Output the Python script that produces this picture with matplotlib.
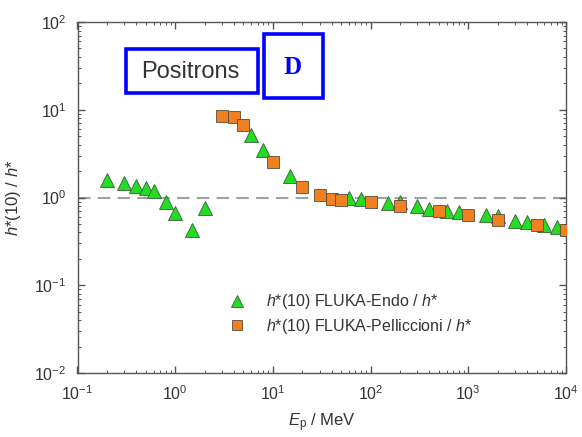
import matplotlib
matplotlib.use("Agg")
import matplotlib.pyplot as plt
from matplotlib.patches import Rectangle

plt.rcParams['font.family'] = ['Liberation Sans', 'DejaVu Sans']
plt.rcParams['mathtext.fontset'] = 'custom'
plt.rcParams['mathtext.rm'] = 'Liberation Sans'
plt.rcParams['mathtext.it'] = 'Liberation Sans:italic'
plt.rcParams['mathtext.bf'] = 'Liberation Sans:bold'

# ---- data ----
endo_energy = [0.2, 0.3, 0.4, 0.5, 0.6, 0.8, 1.0, 1.5, 2.0, 6, 8, 15,
               60, 80, 150, 200, 300, 400, 600, 800, 1500, 2000, 3000,
               4000, 6000, 8000]
endo_ratio = [1.58, 1.47, 1.35, 1.27, 1.19, 0.90, 0.66, 0.43, 0.75, 5.15,
              3.48, 1.76, 0.98, 0.95, 0.86, 0.90, 0.79, 0.73, 0.71, 0.68,
              0.63, 0.61, 0.54, 0.53, 0.48, 0.46]

pell_energy = [3, 4, 5, 10, 20, 30, 40, 50, 100, 200, 500, 1000, 2000,
               5000, 10000]
pell_ratio = [8.55, 8.3, 6.7, 2.56, 1.33, 1.07, 0.96, 0.94, 0.89, 0.81,
              0.71, 0.64, 0.56, 0.48, 0.43]

x_ticks = [0.1, 1, 10, 100, 1000, 10000]
x_tick_labels = ['$10^{-1}$', '$10^{0}$', '$10^{1}$', '$10^{2}$', '$10^{3}$', '$10^{4}$']
y_ticks = [0.01, 0.1, 1, 10, 100]
y_tick_labels = ['$10^{-2}$', '$10^{-1}$', '$10^{0}$', '$10^{1}$', '$10^{2}$']

label_endo = '$h$*(10) FLUKA-Endo / $h$*'
label_pell = '$h$*(10) FLUKA-Pelliccioni / $h$*'

W, H = 582, 437
fig = plt.figure(figsize=(W / 100, H / 100), dpi=100)
ax = fig.add_axes([77.5 / W, 1 - 373 / H, (566 - 77.5) / W, (373 - 22) / H])

ax.set_xscale('log')
ax.set_yscale('log')
ax.set_xlim(0.1, 10000)
ax.set_ylim(0.01, 100)

ax.axhline(1.0, color='#a0a0a0', lw=1.5, ls=(0, (6, 3.5)), zorder=1)

ax.plot(endo_energy, endo_ratio, ls='none', marker='^', ms=10,
        mfc='#22dd22', mec='#3a5a3a', mew=0.6, label=label_endo, zorder=3)
ax.plot(pell_energy, pell_ratio, ls='none', marker='s', ms=8.5,
        mfc='#f08020', mec='#5a4a3a', mew=0.6, label=label_pell, zorder=4)

ax.set_xticks(x_ticks)
ax.set_xticklabels(x_tick_labels)
ax.set_yticks(y_ticks)
ax.set_yticklabels(y_tick_labels)

for side in ax.spines.values():
    side.set_color('#555555')
    side.set_linewidth(1.0)

ax.tick_params(which='both', direction='in', top=True, right=True,
               colors='#555555', labelcolor='#333333', labelsize=11.5)
ax.tick_params(which='major', length=5, width=1.0, pad=8)
ax.tick_params(which='minor', length=2.5, width=0.7)

ax.set_xlabel('$E_{\\mathrm{p}}$ / MeV', fontsize=12, color='#333333', labelpad=6)
ax.set_ylabel('$h$*(10) / $h$*', fontsize=12, color='#333333', labelpad=8)

leg = ax.legend(loc='upper left', bbox_to_anchor=((223 - 77.5) / 488.5, (373 - 286) / 351),
                frameon=False, fontsize=11.5, handlelength=1.0, handletextpad=1.3,
                labelspacing=0.35, borderaxespad=0, markerscale=0.8)
for t in leg.get_texts():
    t.set_color('#333333')

# annotation boxes
fig.patches.append(Rectangle((126 / W, 1 - 93 / H), 132 / W, 44 / H,
                             transform=fig.transFigure, fill=False,
                             edgecolor='#0000ff', lw=2.6, zorder=10))
fig.patches.append(Rectangle((264 / W, 1 - 98 / H), 59 / W, 64 / H,
                             transform=fig.transFigure, fill=False,
                             edgecolor='#0000ff', lw=2.6, zorder=10))
fig.text(190 / W, 1 - 72 / H, 'Positrons', fontsize=17, color='#333333',
         ha='center', va='center')
fig.text(293 / W, 1 - 67 / H, 'D', fontsize=18, color='#0000ff',
         ha='center', va='center', family=['Liberation Serif'], fontweight='bold')

fig.savefig('out.png', dpi=100)
